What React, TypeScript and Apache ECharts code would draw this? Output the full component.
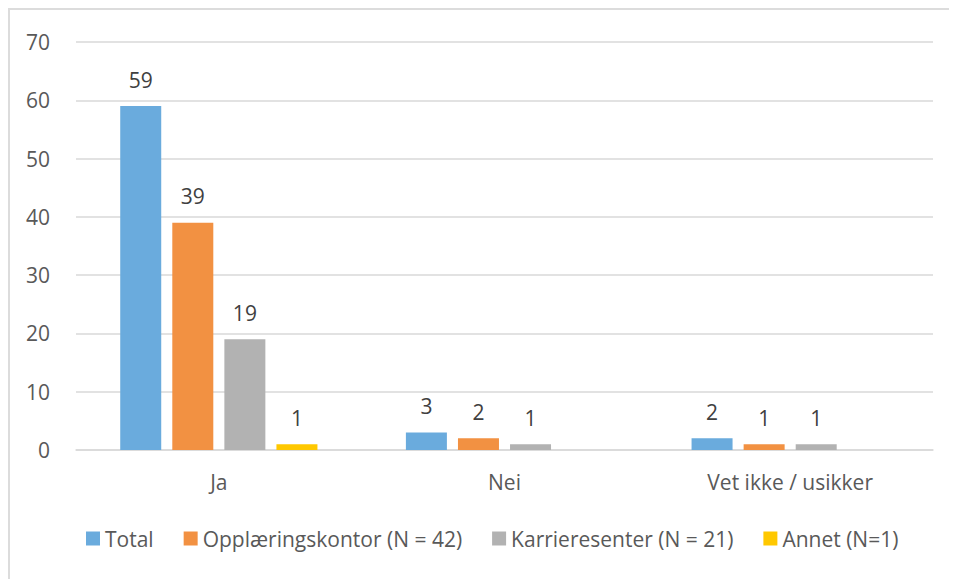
import React, { useEffect, useRef } from "react";
import * as echarts from "echarts";

const categories = ["Ja", "Nei", "Vet ikke / usikker"];
const seriesNames = [
  "Total",
  "Opplæringskontor (N = 42)",
  "Karrieresenter (N = 21)",
  "Annet (N=1)",
];
const totalValues = [59, 3, 2];
const opplaeringValues = [39, 2, 1];
const karriereValues = [19, 1, 1];
const annetValues: (number | null)[] = [1, null, null];
const colors = ["#6AABDD", "#F29142", "#B2B2B2", "#FFC800"];

const FONT = "'Open Sans', sans-serif";
const FS = 21;

export default function App() {
  const ref = useRef<HTMLDivElement>(null);
  useEffect(() => {
    if (!ref.current) return;
    const chart = echarts.init(ref.current, null, { renderer: "svg" });
    const data = [totalValues, opplaeringValues, karriereValues, annetValues];
    chart.setOption({
      animation: false,
      textStyle: { fontFamily: FONT },
      graphic: [
        { type: "line", shape: { x1: 1, y1: 0, x2: 1, y2: 571 }, style: { stroke: "#dcdcdc", lineWidth: 2 } },
        { type: "line", shape: { x1: 0, y1: 1, x2: 949, y2: 1 }, style: { stroke: "#dcdcdc", lineWidth: 2 } },
      ],
      grid: { left: 68, right: 24, top: 34, bottom: 129, containLabel: false },
      legend: {
        left: 73,
        top: 515,
        itemWidth: 14,
        itemHeight: 14,
        itemGap: 30,
        icon: "rect",
        textStyle: { fontSize: FS, color: "#595959", fontFamily: FONT },
        data: seriesNames,
      },
      xAxis: {
        type: "category",
        data: categories,
        axisLine: { lineStyle: { color: "#d9d9d9", width: 1.5 } },
        axisTick: { show: false },
        axisLabel: { fontSize: FS, color: "#595959", margin: 21, fontFamily: FONT },
      },
      yAxis: {
        type: "value",
        min: 0,
        max: 70,
        interval: 10,
        axisLine: { show: false },
        axisTick: { show: false },
        splitLine: { lineStyle: { color: "#d9d9d9", width: 1.5 } },
        axisLabel: { fontSize: FS, color: "#595959", margin: 26, fontFamily: FONT },
      },
      series: seriesNames.map((name, i) => ({
        name,
        type: "bar",
        data: data[i],
        barWidth: 41,
        barGap: "27%",
        itemStyle: { color: colors[i] },
        label: {
          show: true,
          position: "top",
          distance: 16,
          fontSize: FS,
          color: "#404040",
          fontFamily: FONT,
        },
      })),
    });
    return () => chart.dispose();
  }, []);
  return <div ref={ref} style={{ width: 949, height: 571 }} />;
}
